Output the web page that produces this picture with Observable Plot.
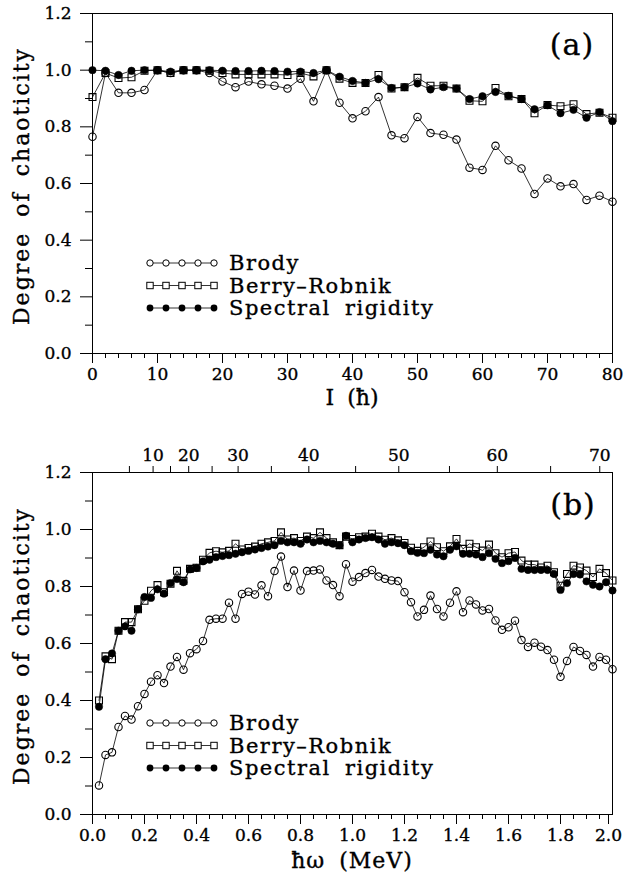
<!DOCTYPE html>
<html><head><meta charset="utf-8">
<script src="https://cdn.jsdelivr.net/npm/d3@7"></script>
<script src="https://cdn.jsdelivr.net/npm/@observablehq/plot@0.6"></script>
<style>
body{margin:0;background:#fff;}
#wrap{position:relative;width:623px;height:877px;font-family:"DejaVu Serif",serif;}
.panel{position:absolute;left:0;}
#overlay{position:absolute;left:0;top:0;pointer-events:none;}
#wrap svg text{stroke:#000;stroke-width:0.35px;}
</style></head><body>
<div id="wrap"><div id="pa" class="panel" style="top:0"></div><div id="pb" class="panel" style="top:400px"></div><svg id="overlay" width="623" height="877"></svg></div>
<script>
// ---------- Panel (a): degree of chaoticity vs angular momentum I ----------
const spinI = [0,2,4,6,8,10,12,14,16,18,20,22,24,26,28,30,32,34,36,38,40,42,44,46,48,50,52,54,56,58,60,62,64,66,68,70,72,74,76,78,80];
const brodyA = [0.765,0.99,0.92,0.92,0.93,1.0,0.99,1.0,1.0,0.99,0.96,0.94,0.96,0.95,0.945,0.935,0.97,0.89,1.0,0.885,0.83,0.855,0.905,0.77,0.76,0.835,0.778,0.772,0.755,0.656,0.648,0.733,0.682,0.653,0.563,0.618,0.59,0.598,0.542,0.557,0.536];
const berryA = [0.905,0.99,0.972,0.975,0.998,1.0,0.99,1.0,1.0,0.998,0.99,0.985,0.985,0.985,0.985,0.983,0.99,0.978,1.0,0.97,0.955,0.955,0.983,0.935,0.94,0.973,0.945,0.945,0.935,0.892,0.89,0.937,0.908,0.898,0.848,0.877,0.873,0.88,0.845,0.85,0.832];
const spectralA = [1.0,0.998,0.983,0.998,1.0,1.0,0.995,1.0,1.0,1.0,0.998,0.997,0.997,0.998,0.997,0.995,0.995,0.99,1.0,0.977,0.962,0.955,0.968,0.937,0.94,0.953,0.932,0.94,0.935,0.898,0.908,0.923,0.91,0.898,0.862,0.876,0.848,0.86,0.832,0.852,0.82];

// ---------- Panel (b): degree of chaoticity vs rotational frequency ----------
const hw = [0.025,0.05,0.075,0.1,0.125,0.15,0.175,0.2,0.225,0.25,0.275,0.3,0.325,0.35,0.375,0.4,0.425,0.45,0.475,0.5,
0.525,0.55,0.575,0.6,0.625,0.65,0.675,0.7,0.725,0.75,0.775,0.8,0.825,0.85,0.875,0.9,0.925,0.95,0.975,1.0,
1.025,1.05,1.075,1.1,1.125,1.15,1.175,1.2,1.225,1.25,1.275,1.3,1.325,1.35,1.375,1.4,1.425,1.45,1.475,1.5,
1.525,1.55,1.575,1.6,1.625,1.65,1.675,1.7,1.725,1.75,1.775,1.8,1.825,1.85,1.875,1.9,1.925,1.95,1.975,2.0];
const brodyB = [0.102,0.209,0.218,0.307,0.346,0.333,0.380,0.423,0.466,0.489,
0.461,0.519,0.553,0.508,0.566,0.580,0.609,0.683,0.687,0.687,
0.743,0.687,0.774,0.782,0.772,0.804,0.766,0.854,0.905,0.798,
0.856,0.786,0.854,0.856,0.860,0.821,0.805,0.766,0.878,0.817,
0.833,0.847,0.858,0.835,0.827,0.821,0.819,0.780,0.745,0.695,
0.718,0.768,0.721,0.695,0.743,0.783,0.710,0.751,0.737,0.716,
0.721,0.681,0.648,0.657,0.680,0.612,0.588,0.603,0.589,0.577,
0.543,0.483,0.539,0.588,0.574,0.560,0.519,0.553,0.543,0.510];
const berryB = [0.40,0.555,0.545,0.645,0.675,0.675,0.72,0.75,0.785,0.805,
0.78,0.81,0.855,0.82,0.862,0.866,0.894,0.918,0.924,0.92,
0.925,0.95,0.93,0.935,0.94,0.95,0.955,0.96,0.99,0.965,
0.97,0.96,0.975,0.97,0.99,0.97,0.955,0.945,0.975,0.967,
0.973,0.975,0.985,0.975,0.964,0.97,0.962,0.953,0.936,0.925,
0.938,0.958,0.938,0.924,0.941,0.967,0.932,0.95,0.938,0.926,
0.947,0.917,0.903,0.917,0.921,0.891,0.877,0.877,0.867,0.873,
0.85,0.803,0.844,0.873,0.867,0.856,0.833,0.862,0.847,0.821];
const spectralB = [0.378,0.545,0.565,0.645,0.66,0.645,0.72,0.763,0.76,0.79,
0.775,0.812,0.826,0.815,0.86,0.865,0.888,0.894,0.903,0.907,
0.91,0.915,0.92,0.925,0.93,0.935,0.94,0.945,0.96,0.955,
0.955,0.95,0.965,0.955,0.96,0.955,0.95,0.945,0.978,0.955,
0.965,0.97,0.973,0.965,0.95,0.955,0.952,0.945,0.924,0.918,
0.917,0.929,0.912,0.906,0.929,0.941,0.915,0.915,0.912,0.903,
0.917,0.897,0.882,0.889,0.9,0.862,0.858,0.858,0.858,0.858,
0.844,0.788,0.812,0.844,0.842,0.818,0.806,0.8,0.815,0.786];

// top axis of panel (b): angular momentum I at given hbar-omega
const topSpin = [5,10,15,20,25,30,35,40,45,50,55,60,65,70];
const topSpinHw = [0.142,0.233,0.300,0.370,0.460,0.560,0.688,0.832,1.012,1.178,1.373,1.557,1.762,1.951];

// tick values and labels
const yTicks = [0,0.2,0.4,0.6,0.8,1.0,1.2];
const yMinor = [0.1,0.3,0.5,0.7,0.9,1.1];
const xTicksA = [0,10,20,30,40,50,60,70,80];
const xMinorA = [2,4,6,8,12,14,16,18,22,24,26,28,32,34,36,38,42,44,46,48,52,54,56,58,62,64,66,68,72,74,76,78];
const xTicksB = [0,0.2,0.4,0.6,0.8,1.0,1.2,1.4,1.6,1.8];
const xLastB = [2.0];
const xMinorB = [0.05,0.1,0.15,0.25,0.3,0.35,0.45,0.5,0.55,0.65,0.7,0.75,0.85,0.9,0.95,1.05,1.1,1.15,1.25,1.3,1.35,1.45,1.5,1.55,1.65,1.7,1.75,1.85,1.9,1.95];

const seriesNames = ["Brody","Berry\u2013Robnik","Spectral rigidity"];

function rows(xs, ys){ return xs.map((x,i)=>({x, y: ys[i]})); }

function seriesMarks(xs, b, r, s){
  const B = rows(xs,b), R = rows(xs,r), S = rows(xs,s);
  return [
    Plot.line(B,{x:"x",y:"y",stroke:"black",strokeWidth:0.8}),
    Plot.dot(B,{x:"x",y:"y",r:3.7,stroke:"black",strokeWidth:1.1,fill:"none"}),
    Plot.line(R,{x:"x",y:"y",stroke:"black",strokeWidth:0.8}),
    Plot.dot(R,{x:"x",y:"y",r:3.9,symbol:"square",stroke:"black",strokeWidth:1.1,fill:"none"}),
    Plot.line(S,{x:"x",y:"y",stroke:"black",strokeWidth:0.8}),
    Plot.dot(S,{x:"x",y:"y",r:3.7,fill:"black",stroke:"black",strokeWidth:0.5})
  ];
}

const fmt1 = d => d.toFixed(1);
const common = {
  width: 623, marginLeft: 92, marginRight: 11,
  style: {fontFamily: "DejaVu Serif, serif", fontSize: "17px", background: "white", color: "black", overflow: "visible"},
  y: {domain: [0,1.2]}
};
const yAxes = [
  Plot.axisY(yTicks,{tickSize:12,tickPadding:9,tickFormat:fmt1,label:null,fontSize:17}),
  Plot.axisY(yMinor,{tickSize:7,tickFormat:()=>"",label:null})
];

const plotA = Plot.plot({
  ...common, height: 400, marginTop: 13, marginBottom: 47,
  x: {domain: [0,80]},
  marks: [
    ...yAxes,
    Plot.axisX(xTicksA,{tickSize:10,tickPadding:4,label:null,fontSize:17}),
    Plot.axisX(xMinorA,{tickSize:5,tickFormat:()=>"",label:null}),
    Plot.frame({stroke:"black",strokeWidth:1}),
    ...seriesMarks(spinI, brodyA, berryA, spectralA)
  ]
});
document.getElementById("pa").appendChild(plotA);

const topLabel = new Map(topSpin.map((I,i)=>[topSpinHw[i], I % 10 === 0 ? String(I) : ""]));
const plotB = Plot.plot({
  ...common, height: 477, marginTop: 72, marginBottom: 63,
  x: {domain: [0,2.0]},
  marks: [
    ...yAxes,
    Plot.axisX(xTicksB,{tickSize:10,tickPadding:4,tickFormat:fmt1,label:null,fontSize:17}),
    Plot.axisX(xLastB,{tickSize:10,tickPadding:4,tickFormat:fmt1,label:null,fontSize:17,dx:-4}),
    Plot.axisX(xMinorB,{tickSize:5,tickFormat:()=>"",label:null}),
    Plot.axisX(topSpinHw,{anchor:"top",tickSize:7,tickPadding:5,tickFormat:d=>topLabel.get(d),label:null,fontSize:17}),
    Plot.frame({stroke:"black",strokeWidth:1}),
    ...seriesMarks(hw, brodyB, berryB, spectralB)
  ]
});
document.getElementById("pb").appendChild(plotB);

// ---------- overlay: titles, panel tags, legends ----------
const ov = d3.select("#overlay").style("font-family","DejaVu Serif, serif");
function ytitle(cy){
  ov.append("text").attr("transform",`translate(29,${cy}) rotate(-90)`).attr("text-anchor","middle")
    .style("font-size","22px").style("letter-spacing","2px").style("word-spacing","6px").text("Degree of chaoticity");
}
ytitle(186); ytitle(646);
ov.append("text").attr("x",572).attr("y",55).attr("text-anchor","middle").style("font-size","30px").style("letter-spacing","1px").text("(a)");
ov.append("text").attr("x",573).attr("y",515).attr("text-anchor","middle").style("font-size","30px").style("letter-spacing","1px").text("(b)");
ov.append("text").attr("x",352).attr("y",405).attr("text-anchor","middle").style("font-size","22px").style("word-spacing","6px").text("I (\u0127)");
ov.append("text").attr("x",352).attr("y",868).attr("text-anchor","middle").style("font-size","22px").style("letter-spacing","1px").style("word-spacing","6px").text("\u0127\u03c9 (MeV)");

function legend(y0){
  const xs = [150,166,182,198,214];
  seriesNames.forEach((name,i)=>{
    const y = y0 + i*22.5;
    ov.append("line").attr("x1",xs[0]).attr("x2",xs[4]).attr("y1",y).attr("y2",y).attr("stroke","black").attr("stroke-width",0.8);
    xs.forEach(x=>{
      if(i===0) ov.append("circle").attr("cx",x).attr("cy",y).attr("r",3.2).attr("fill","white").attr("stroke","black");
      else if(i===1) ov.append("rect").attr("x",x-3.2).attr("y",y-3.2).attr("width",6.4).attr("height",6.4).attr("fill","white").attr("stroke","black");
      else ov.append("circle").attr("cx",x).attr("cy",y).attr("r",3.4).attr("fill","black");
    });
    ov.append("text").attr("x",229).attr("y",y+7).style("font-size","21px").style("letter-spacing","1.5px").style("word-spacing","6px").text(name);
  });
}
legend(263); legend(723);
</script></body></html>
